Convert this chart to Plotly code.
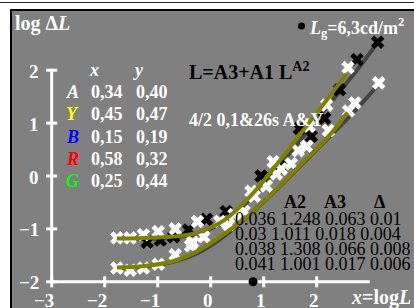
import numpy as np
import plotly.graph_objects as go

# ---------------- data ----------------
xtick_vals = [-3, -2, -1, 0, 1, 2]
xtick_text = ["\u22123", "\u22122", "\u22121", "0", "1", "2"]
ytick_vals = [-2, -1, 0, 1, 2]
ytick_text = ["\u22122", "\u22121", "0", "1", "2"]

# fitted curves (olive = upper/lower, dark gray = companion fits)
olive_up_x = [-1.77, -1.25, -0.75, -0.25, 0.25, 0.75, 1.25, 1.75, 2.20, 2.56]
olive_up_y = [-1.18, -1.17, -1.15, -1.07, -0.84, -0.38, 0.22, 0.87, 1.45, 1.93]
olive_lo_x = [-1.77, -1.25, -0.75, -0.25, 0.25, 0.75, 1.25, 1.75, 2.20, 2.58]
olive_lo_y = [-1.73, -1.70, -1.62, -1.42, -1.10, -0.72, -0.24, 0.27, 0.72, 1.20]
gray_up_x = [-1.77, -1.25, -0.75, -0.25, 0.25, 0.75, 1.25, 1.75, 2.25, 2.75, 3.15]
gray_up_y = [-1.20, -1.19, -1.17, -1.09, -0.86, -0.43, 0.14, 0.75, 1.37, 1.99, 2.52]
gray_lo_x = [-1.77, -1.25, -0.75, -0.25, 0.25, 0.75, 1.25, 1.75, 2.25, 2.75, 3.17]
gray_lo_y = [-1.73, -1.71, -1.63, -1.46, -1.14, -0.72, -0.25, 0.25, 0.75, 1.26, 1.74]

black_up_x = [-1.20, -0.95, -0.70, -0.42, -0.08, 0.29, 0.95, 1.29, 1.67, 1.90, 2.15, 2.43, 2.76, 3.15]
black_up_y = [-1.25, -1.21, -1.15, -1.02, -0.82, -0.67, 0.00, 0.19, 0.90, 0.75, 1.09, 1.63, 2.20, 2.53]
white_up_x = [-1.77, -1.52, -1.27, -0.99, -0.67, -0.25, 0.17, 0.44, 0.76, 1.18, 1.33, 1.65, 1.86, 2.19, 2.59]
white_up_y = [-1.17, -1.17, -1.11, -1.05, -1.00, -0.86, -0.86, -0.73, -0.29, 0.27, 0.13, 0.48, 0.94, 1.34, 2.05]
white_lo_x = [-1.77, -1.52, -1.27, -0.99, -0.67, -0.38, -0.34, -0.13, 0.34, 0.63, 0.82, 1.05, 1.24, 1.52, 1.81, 2.22, 2.60, 2.72, 3.17]
white_lo_y = [-1.74, -1.78, -1.74, -1.67, -1.49, -1.32, -1.25, -1.15, -0.92, -0.67, -0.38, -0.19, 0.04, 0.23, 0.56, 0.86, 1.23, 1.38, 1.76]

lg_value = 6.3  # cd/m^2, marked on the x axis at log10(Lg)

leg_names = ["A", "Y", "B", "R", "G"]
leg_colors = ["#ffffff", "#ffff00", "#0000ff", "#ff0000", "#00ff00"]
leg_xvals = ["0,34", "0,45", "0,15", "0,58", "0,25"]
leg_yvals = ["0,40", "0,47", "0,19", "0,32", "0,44"]

tab_header = ["A2", "A3", "\u0394"]
tab_rows = ["0.036 1.248 0.063 0.01",
            "0.03 1.011 0.018 0.004",
            "0.038 1.308 0.066 0.008",
            "0.041 1.001 0.017 0.006"]

# ---------------- layout helpers ----------------
W, H = 414, 308
X0, XS = 210.7, 53.0
Y0, YS = 176.0, 52.9
def dx(px): return (px - X0) / XS
def dy(py): return (Y0 - py) / YS
def pxp(px): return px / W
def pyp(py): return 1 - py / H

BG = "#808080"
OLIVE = "#808000"
DGRAY = "#454545"
FONT = "Liberation Serif"

fig = go.Figure()

for xs, ys in [(gray_up_x, gray_up_y), (gray_lo_x, gray_lo_y)]:
    fig.add_trace(go.Scatter(x=xs, y=ys, mode="lines", line=dict(color=DGRAY, width=4, shape="spline"),
                             hoverinfo="skip"))

fig.add_trace(go.Scatter(x=black_up_x, y=black_up_y, mode="markers",
                         marker=dict(symbol="x", size=12, color="black", line=dict(width=0))))
for xs, ys in [(white_up_x, white_up_y), (white_lo_x, white_lo_y)]:
    fig.add_trace(go.Scatter(x=xs, y=ys, mode="markers",
                             marker=dict(symbol="x", size=12, color="white", line=dict(width=0))))

for xs, ys in [(olive_up_x, olive_up_y), (olive_lo_x, olive_lo_y)]:
    fig.add_trace(go.Scatter(x=xs, y=ys, mode="lines", line=dict(color=OLIVE, width=4, shape="spline"),
                             hoverinfo="skip"))

# Lg marker on the axis
fig.add_trace(go.Scatter(x=[np.log10(lg_value)], y=[ytick_vals[0]], mode="markers",
                         marker=dict(size=9, color="black"), cliponaxis=False))

shapes = []
# axes
shapes.append(dict(type="line", x0=xtick_vals[0], x1=3, y0=ytick_vals[0], y1=ytick_vals[0],
                   line=dict(color="white", width=3), layer="below"))
shapes.append(dict(type="line", x0=xtick_vals[0], x1=xtick_vals[0], y0=ytick_vals[0], y1=ytick_vals[-1] + 1.5 / YS,
                   line=dict(color="white", width=3), layer="below"))
for t in xtick_vals:
    shapes.append(dict(type="line", x0=t, x1=t, y0=ytick_vals[0] - 5.5 / YS, y1=ytick_vals[0] + 5.5 / YS,
                       line=dict(color="white", width=3), layer="below"))
for t in ytick_vals:
    shapes.append(dict(type="line", y0=t, y1=t, x0=xtick_vals[0] - 5.5 / XS, x1=xtick_vals[0] + 5.5 / XS,
                       line=dict(color="white", width=3), layer="below"))
# frame
shapes.append(dict(type="rect", xref="paper", yref="paper", x0=0, x1=1, y0=pyp(10), y1=1,
                   fillcolor="white", line=dict(width=0)))
shapes.append(dict(type="rect", xref="paper", yref="paper", x0=0, x1=pxp(11), y0=0, y1=1,
                   fillcolor="white", line=dict(width=0)))
shapes.append(dict(type="line", xref="paper", yref="paper", x0=0, x1=1, y0=pyp(2.5), y1=pyp(2.5),
                   line=dict(color="#222", width=1)))
shapes.append(dict(type="line", xref="paper", yref="paper", x0=pxp(10), x1=1, y0=pyp(10), y1=pyp(10),
                   line=dict(color="black", width=2)))
shapes.append(dict(type="line", xref="paper", yref="paper", x0=pxp(11), x1=pxp(11), y0=0, y1=pyp(10),
                   line=dict(color="black", width=2)))
# Lg legend dot
shapes.append(dict(type="circle", x0=dx(298), x1=dx(305), y0=dy(29.5), y1=dy(22.5),
                   fillcolor="black", line=dict(width=0)))

ann = []
def A(text, px, py, size=18, color="white", xanchor="left", yanchor="middle", **kw):
    ann.append(dict(text=text, x=dx(px), y=dy(py), xref="x", yref="y", showarrow=False,
                    xanchor=xanchor, yanchor=yanchor, font=dict(family=FONT, size=size, color=color), **kw))

for t, lab in zip(xtick_vals, xtick_text):
    A("<b>%s</b>" % lab, X0 + XS * t + 4, 300, size=19, xanchor="right")
for t, lab in zip(ytick_vals, ytick_text):
    A("<b>%s</b>" % lab, 41, Y0 - YS * t + 1, size=19, xanchor="right")

A("<b>log \u0394<i>L</i></b>", 13, 23, size=20)
A("<b><i>x</i>=log<i>L</i></b>", 413, 297, size=20, xanchor="right")

A("<b><i>x</i></b>", 94, 70, xanchor="center")
A("<b><i>y</i></b>", 138, 70, xanchor="center")
for i, (n, c, xv, yv) in enumerate(zip(leg_names, leg_colors, leg_xvals, leg_yvals)):
    py = 92 + 22.3 * i
    A("<b><i>%s</i></b>" % n, 72, py, color=c, xanchor="center")
    A("<b>%s</b>" % xv, 89, py)
    A("<b>%s</b>" % yv, 134, py)

A("<b>L=A3+A1 L<sup>A2</sup></b>", 187, 71, size=20, color="black")
A("<b>4/2 0,1&26s A&Y</b>", 187, 120)
A("<b><i>L</i><sub>g</sub>=6,3cd/m<sup>2</sup></b>", 307, 27)

for h, px in zip(tab_header, [282, 322, 372]):
    A("<b>%s</b>" % h, px, 202, color="black")
for i, r in enumerate(tab_rows):
    A(r, 233, 219 + 15 * i, color="black")

fig.update_layout(
    width=W, height=H, margin=dict(l=0, r=0, t=0, b=0, pad=0),
    paper_bgcolor="white", plot_bgcolor=BG, showlegend=False,
    xaxis=dict(range=[dx(0), dx(W)], visible=False, fixedrange=True),
    yaxis=dict(range=[dy(H), dy(0)], visible=False, fixedrange=True),
    shapes=shapes, annotations=ann,
)
fig.write_html("out.html", config={"displayModeBar": False},
               post_script="document.body.style.margin='0';document.body.style.overflow='hidden';")
